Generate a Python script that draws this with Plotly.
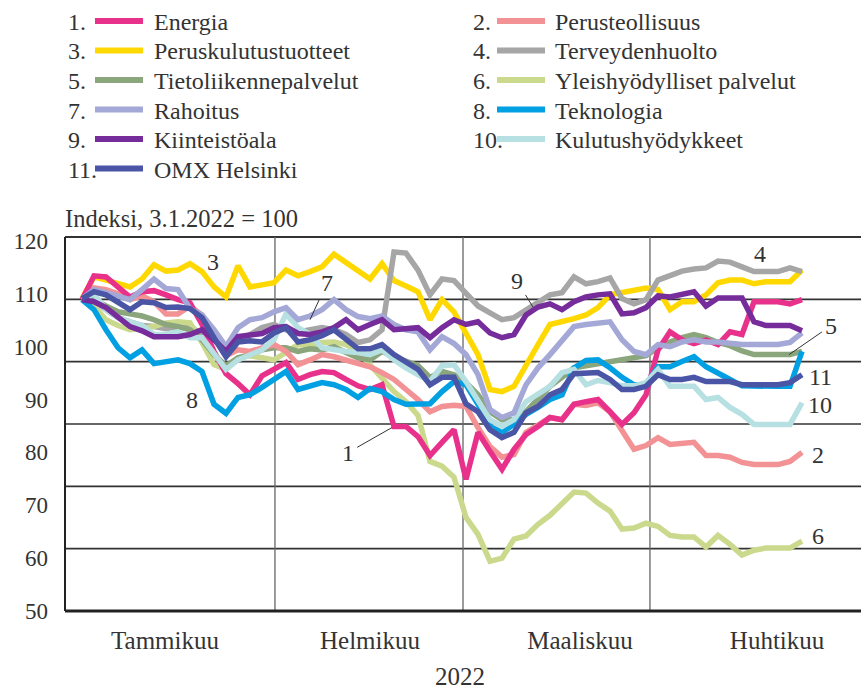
import plotly.graph_objects as go

# ---------------- data ----------------
# shared x: sample index along the period (Jan 3 -> late April 2022)
sample = list(range(61))

month_labels = ["Tammikuu", "Helmikuu", "Maaliskuu", "Huhtikuu"]
month_label_pos = [6.92, 24.0, 41.5, 57.92]
month_starts = [16.08, 31.75, 47.33]

y_ticks = [50, 60, 70, 80, 90, 100, 110, 120]

names = ["Energia", "Perusteollisuus", "Peruskulutustuotteet", "Terveydenhuolto",
         "Tietoliikennepalvelut", "Yleishyödylliset palvelut", "Rahoitus",
         "Teknologia", "Kiinteistöala", "Kulutushyödykkeet", "OMX Helsinki"]

colors = ["#e8318a", "#f29294", "#ffd800", "#a6a6a6", "#8ba57c", "#cad98c",
          "#a4a8d6", "#00a0e3", "#772c9c", "#b7e0e3", "#4a55a6"]

energia = [108.9,113.4,113.2,111.3,109.4,110.4,110.6,109.8,108.9,108.3,
           104.2,99.1,94.9,93.0,90.9,94.5,95.8,97.0,93.8,94.7,
           95.3,95.1,93.8,92.6,91.9,92.8,84.9,84.9,83.0,79.4,
           81.9,84.3,74.9,83.8,80.2,76.8,80.6,83.4,84.9,86.6,
           86.2,89.1,89.6,90.0,87.7,85.3,87.5,90.9,99.4,102.8,
           101.3,100.6,101.3,100.4,102.8,102.3,108.5,108.5,108.5,108.1,108.9]

perusteollisuus = [108.9,111.1,110.8,110.0,108.9,109.6,108.5,106.2,106.2,107.7,
                   106.0,101.7,98.3,99.4,99.1,99.8,100.4,99.1,96.6,97.5,
                   98.5,98.1,97.5,97.0,96.2,95.1,93.8,91.9,90.0,87.7,
                   88.7,88.9,88.7,84.7,81.1,79.1,79.6,83.8,85.3,86.6,
                   86.2,89.1,88.9,89.4,87.7,84.3,80.6,81.3,82.8,81.5,
                   81.7,81.9,79.4,79.4,79.1,78.1,77.7,77.7,77.7,78.3,80.0]

peruskulutus = [109.1,113.2,112.6,111.9,111.3,112.8,115.5,114.3,114.5,115.7,
                114.2,111.3,109.4,115.3,111.3,111.7,112.1,114.5,113.4,114.2,
                115.1,117.5,116.0,114.2,112.8,115.7,112.5,111.5,110.4,105.1,
                108.9,106.6,102.3,98.5,91.9,91.5,92.5,96.6,100.4,104.2,
                104.7,105.3,106.0,107.4,109.8,110.2,110.8,111.1,110.8,107.0,
                108.5,108.5,109.8,112.1,112.6,112.6,111.9,112.3,112.3,112.3,114.5]

terveys = [109.1,108.9,107.0,105.5,104.7,104.0,103.8,103.4,103.8,103.8,
           102.3,101.3,99.4,101.3,102.3,103.6,104.2,103.2,102.8,103.2,
           103.6,103.2,102.3,100.8,101.3,103.2,117.9,117.7,114.5,109.8,
           112.8,112.5,110.2,107.7,106.4,105.1,105.5,107.0,108.5,109.8,
           110.2,113.2,111.9,112.3,113.0,109.1,108.1,108.9,112.6,113.4,
           114.3,114.7,114.9,116.2,116.0,115.1,114.2,114.2,114.2,114.9,114.2]

tietoliikenne = [108.9,108.9,107.7,106.6,106.2,105.8,105.1,104.2,103.8,103.2,
                 101.3,98.5,96.4,97.9,98.5,99.4,99.8,99.8,99.1,99.6,
                 99.4,100.0,98.9,97.9,97.5,99.1,98.1,97.2,96.4,94.2,
                 95.3,94.7,93.2,90.9,87.7,86.2,86.2,87.7,90.0,92.5,
                 94.2,96.0,96.4,96.8,97.2,97.5,97.9,98.3,99.8,100.9,
                 101.7,102.3,101.7,100.8,100.2,99.2,98.5,98.5,98.5,98.5,99.1]

yleishyodylliset = [108.9,107.7,105.1,104.0,103.2,103.4,103.8,104.5,104.7,104.5,
                    100.8,96.6,95.7,97.9,98.3,97.9,97.5,98.9,100.4,100.2,
                    100.8,100.9,100.4,99.1,96.6,93.8,91.5,89.6,87.0,78.3,
                    77.4,75.3,67.7,64.5,59.4,60.0,63.6,64.2,66.4,68.1,
                    70.2,72.5,72.3,70.4,68.9,65.5,65.7,66.6,66.0,64.3,
                    64.0,64.0,62.1,64.3,62.6,60.6,61.5,61.9,61.9,61.9,63.2]

rahoitus = [109.1,110.8,110.2,109.6,108.9,110.8,112.8,111.0,110.8,107.2,
            106.0,103.2,100.0,103.6,105.1,105.5,106.6,107.4,105.1,105.8,
            107.0,108.9,107.0,105.7,105.3,105.8,104.2,103.2,102.8,99.4,
            101.9,100.6,98.5,94.7,88.1,86.6,87.5,92.8,96.0,98.5,
            101.3,103.8,104.2,104.5,104.7,101.3,99.1,98.5,100.4,100.0,
            100.9,101.3,100.9,100.9,100.6,100.4,100.4,100.4,100.4,100.8,102.6]

teknologia = [108.9,107.0,103.2,99.8,97.9,99.4,96.8,97.2,97.5,96.8,
              95.3,89.1,87.4,90.4,90.9,92.3,93.8,95.3,91.9,92.5,
              93.2,92.8,91.9,90.4,92.1,91.5,90.0,89.1,89.1,89.2,
              91.5,93.4,92.8,89.1,84.9,83.8,85.3,87.2,88.5,90.0,
              90.9,96.0,97.4,97.5,96.0,94.2,92.8,92.8,96.2,96.2,
              97.2,98.1,96.2,95.1,93.8,92.6,92.5,92.5,92.5,92.5,99.1]

kiinteisto = [108.9,108.5,107.4,105.5,103.8,103.0,101.9,101.9,101.9,102.3,
              103.2,101.3,99.1,101.9,102.3,102.5,103.6,103.8,102.5,102.3,
              102.8,103.6,105.1,103.2,104.2,105.1,103.2,103.4,103.6,101.7,
              103.6,105.1,104.2,104.7,102.6,101.7,102.3,106.0,107.5,108.1,
              107.0,108.5,109.4,109.8,110.0,106.2,106.4,107.4,109.6,109.4,
              109.8,110.4,107.7,109.2,109.2,109.2,104.7,104.0,104.0,104.0,103.0]

kulutushyodykkeet = [108.9,110.0,107.0,105.5,104.7,104.0,102.3,102.3,102.8,101.7,
                     101.7,98.5,95.7,97.5,98.5,99.4,101.3,106.2,103.6,102.3,
                     99.8,99.4,99.1,98.9,98.5,99.4,97.5,96.0,94.7,93.4,
                     96.4,96.6,93.4,89.6,86.2,84.9,86.2,89.6,90.9,92.5,
                     95.1,95.7,92.8,93.6,93.2,92.6,92.6,93.2,95.7,92.5,
                     92.5,92.5,90.0,90.4,88.5,87.2,85.3,85.3,85.3,85.3,89.4]

omx = [109.1,110.4,109.8,108.3,107.0,108.5,108.3,107.4,107.5,107.2,
       105.5,101.7,98.1,100.9,101.1,100.9,102.6,103.6,100.9,101.3,
       102.1,103.2,101.3,99.6,99.6,100.4,98.5,97.2,95.7,92.8,
       94.2,94.2,89.2,87.7,84.3,82.8,83.8,87.5,88.7,90.9,
       91.9,94.9,94.9,95.1,93.8,91.9,91.9,92.5,94.7,93.8,
       93.8,94.2,93.4,93.4,93.4,92.8,92.8,92.8,92.8,93.2,94.7]

series = [energia, perusteollisuus, peruskulutus, terveys, tietoliikenne,
          yleishyodylliset, rahoitus, teknologia, kiinteisto, kulutushyodykkeet, omx]

# line labels: (text, x, y)
line_labels = [("3", 10.92, 116.0), ("4", 56.5, 117.5),
               ("11", 61.5, 94.2), ("10", 61.5, 88.9),
               ("2", 61.33, 79.6), ("6", 61.33, 64.2),
               ("8", 9.17, 90.0)]
# labels with leader lines: (text, tip x, tip y, text offset px x, text offset px y)
leader_labels = [("7", 19.0, 105.1, 17, -37), ("1", 25.83, 84.7, -44, 25),
                 ("9", 37.58, 107.5, -16, -26), ("5", 58.92, 98.5, 42, -29)]

# ---------------- figure ----------------
FONT = "Liberation Serif"
TXT = "#333333"
W, H = 861, 689
ML, MR, MT, MB = 65, 0, 237, 78
PW, PH = W - ML - MR, H - MT - MB

fig = go.Figure()
draw_order = [2, 3, 5, 4, 1, 0, 7, 9, 6, 8, 10]
for k in draw_order:
    fig.add_trace(go.Scatter(x=sample, y=series[k], mode="lines", name=names[k],
                             line=dict(color=colors[k], width=5.5),
                             showlegend=False, hoverinfo="skip"))

shapes = []
# horizontal grid lines at sixths of the frame
for j in range(1, 6):
    shapes.append(dict(type="line", xref="x domain", yref="y domain", x0=0, x1=1,
                       y0=j / 6, y1=j / 6, line=dict(color="#333333", width=1.6), layer="below"))
shapes.append(dict(type="line", xref="x domain", yref="y domain", x0=0, x1=1, y0=1, y1=1,
                   line=dict(color="#333333", width=1.8), layer="below"))
for ms in month_starts:
    shapes.append(dict(type="line", xref="x", yref="y domain", x0=ms, x1=ms, y0=0, y1=1,
                       line=dict(color="#666666", width=1.3), layer="below"))
shapes.append(dict(type="line", xref="x domain", yref="y domain", x0=0, x1=1, y0=0, y1=0,
                   line=dict(color="#222222", width=3)))
shapes.append(dict(type="line", xref="x domain", yref="y domain", x0=0, x1=0, y0=0, y1=1,
                   line=dict(color="#222222", width=2)))

annotations = []


def px_x(p):
    return (p - ML) / PW


def px_y(p):
    return (H - MB - p) / PH


# custom legend (two columns, numbered)
for k, nm in enumerate(names):
    row, col = k // 2, k % 2
    yc = 22 + 29.5 * row
    nx, sx0, sx1, tx = (66, 95, 143, 152) if col == 0 else (471, 497, 545, 553)
    annotations.append(dict(text=f"{k + 1}.", xref="paper", yref="paper", x=px_x(nx), y=px_y(yc),
                            xanchor="left", yanchor="middle", showarrow=False,
                            font=dict(family=FONT, size=24, color=TXT)))
    shapes.append(dict(type="line", xref="paper", yref="paper", x0=px_x(sx0), x1=px_x(sx1),
                       y0=px_y(yc - 1), y1=px_y(yc - 1), line=dict(color=colors[k], width=6)))
    annotations.append(dict(text=nm, xref="paper", yref="paper", x=px_x(tx), y=px_y(yc),
                            xanchor="left", yanchor="middle", showarrow=False,
                            font=dict(family=FONT, size=24, color=TXT)))

annotations.append(dict(text="Indeksi, 3.1.2022 = 100", xref="paper", yref="paper",
                        x=px_x(63), y=px_y(218), xanchor="left", yanchor="middle",
                        showarrow=False, font=dict(family=FONT, size=24.5, color=TXT)))
annotations.append(dict(text="2022", xref="paper", yref="paper", x=px_x(460), y=px_y(676),
                        xanchor="center", yanchor="middle", showarrow=False,
                        font=dict(family=FONT, size=25, color=TXT)))

for t, lx, ly in line_labels:
    annotations.append(dict(text=t, x=lx, y=ly, xref="x", yref="y", showarrow=False,
                            xanchor="center", yanchor="middle",
                            font=dict(family=FONT, size=24, color=TXT)))
for t, tx_, ty_, ax, ay in leader_labels:
    annotations.append(dict(text=t, x=tx_, y=ty_, xref="x", yref="y", showarrow=True,
                            ax=ax, ay=ay, arrowhead=0, arrowwidth=1, arrowcolor="#333333",
                            standoff=0, startstandoff=2,
                            font=dict(family=FONT, size=24, color=TXT)))

fig.update_layout(
    width=W, height=H, margin=dict(l=ML, r=MR, t=MT, b=MB),
    paper_bgcolor="white", plot_bgcolor="white",
    shapes=shapes, annotations=annotations,
    xaxis=dict(range=[-1.4167, 64.917], showgrid=False, zeroline=False, showline=False,
               tickmode="array", tickvals=month_label_pos, ticktext=month_labels,
               ticks="", ticklabelstandoff=12,
               tickfont=dict(family=FONT, size=25, color=TXT)),
    yaxis=dict(range=[50.0, 120.75], showgrid=False, zeroline=False, showline=False,
               tickmode="array", tickvals=y_ticks, ticktext=[str(v) for v in y_ticks],
               ticks="", ticklabelstandoff=16,
               tickfont=dict(family=FONT, size=23, color=TXT)),
    showlegend=False,
)

fig.write_html("out.html", config={"displayModeBar": False},
               post_script="document.body.style.margin='0px';")
